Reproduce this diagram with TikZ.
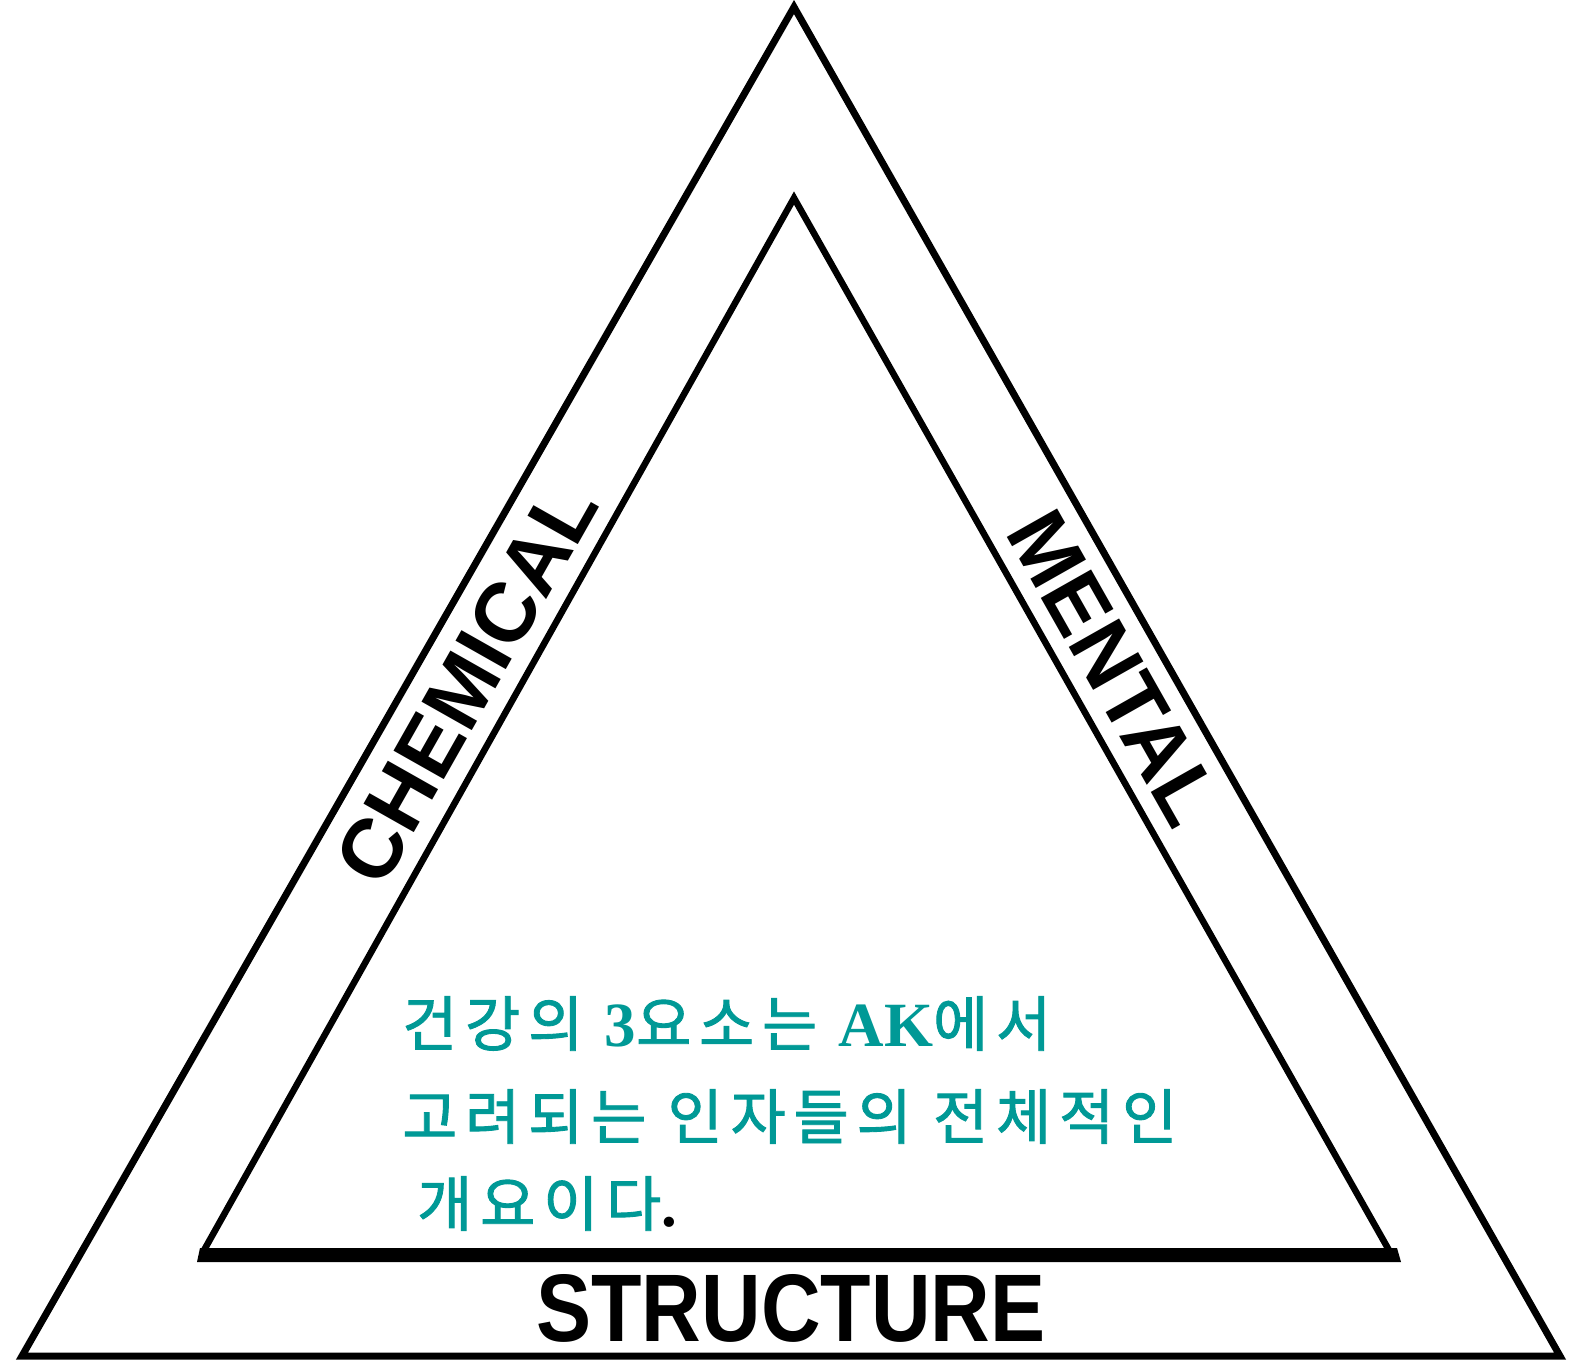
\documentclass[tikz,border=0pt]{standalone}
\usepackage{fontspec}
\newfontfamily\lab{Liberation Sans}
\newfontfamily\kr{Noto Sans CJK KR}[LetterSpace=13,FakeBold=1.5]
\newfontfamily\ser{Liberation Serif}
\newcommand\latinpart[1]{{\ser\bfseries\fontsize{63}{70}\selectfont #1}}
\definecolor{krteal}{RGB}{0,153,150}
\begin{document}
\begin{tikzpicture}[x=1pt,y=-1pt,
  edge/.style={line width=7pt, line join=miter},
  sidelabel/.style={font=\lab\bfseries\fontsize{84}{90}\selectfont, inner sep=0pt},
  krline/.style={anchor=base west, inner sep=0pt, text=krteal, font=\kr\fontsize{60}{70}\selectfont}]
\useasboundingbox (0,0) rectangle (1576,1364);
\fill[white] (0,0) rectangle (1576,1364);
\coordinate (OA) at (794,7);
\coordinate (OL) at (22,1356);
\coordinate (OR) at (1560,1356);
\coordinate (IA) at (794,198);
\coordinate (IL) at (203,1252);
\coordinate (IR) at (1390,1252);
\draw[edge] (OA) -- (OL) -- (OR) -- cycle;
\draw[line width=6.5pt, line join=miter] (IL) -- (IA) -- (IR);
\fill (197,1262) -- (1401,1262) -- (1397,1248) -- (200,1248) -- cycle;
\node[sidelabel, rotate=60.5] (chem) at (466,683) {CHEMICAL};
\node[sidelabel, rotate=-60.5] (ment) at (1114,668) {MENTAL};
\node[sidelabel, anchor=base, font=\lab\bfseries\fontsize{96}{100}\selectfont] (struct) at (791,1341) {\scalebox{0.86}[1]{STRUCTURE}};
\node[krline] (l1) at (402,1046) {건강의 \latinpart{3}요소는 \latinpart{AK}에서};
\node[krline] (l2) at (402,1139) {고려되는 인자들의 전체적인};
\node[krline] (l3) at (417,1226) {개요이다{\color{black}\latinpart{.}}};
\end{tikzpicture}
\end{document}
